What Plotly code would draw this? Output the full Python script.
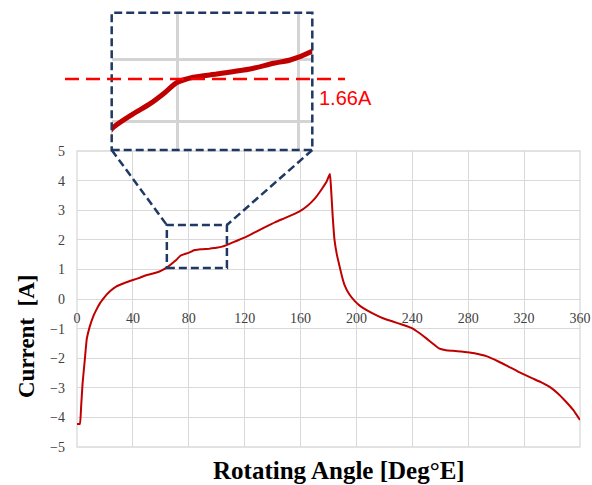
import plotly.graph_objects as go

# ---------------- data ----------------
angle = [0, 2, 3, 4, 5.5, 7, 9, 11.5, 14, 16.5, 19, 21, 24, 28, 34, 40, 45, 50, 55, 59,
         62, 64.5, 68, 71, 74, 77.2, 79.7, 81.7, 83.7, 86.2, 89.7, 94.7, 98.2, 100.7, 103.9,
         107, 114, 121, 128, 135, 142, 150, 159, 165, 170, 175, 178.5, 181, 182, 183,
         184.3, 186, 188, 190, 191.5, 195, 199, 203, 207, 213, 219, 226, 233, 240, 245,
         250, 255, 259, 264, 269, 275, 281, 287, 293, 302, 309, 316, 326, 332, 338, 344,
         350, 355, 360]
current = [-4.22, -4.22, -3.6, -2.85, -2.1, -1.35, -0.95, -0.6, -0.35, -0.14, 0.02, 0.14,
           0.28, 0.42, 0.54, 0.64, 0.72, 0.81, 0.87, 0.93, 1.0, 1.07, 1.2, 1.32, 1.46, 1.52,
           1.56, 1.60, 1.645, 1.667, 1.68, 1.70, 1.723, 1.736, 1.77, 1.82, 1.96, 2.1, 2.27,
           2.44, 2.6, 2.76, 2.95, 3.15, 3.38, 3.7, 3.95, 4.22, 3.6, 2.8, 2.0, 1.5, 1.09, 0.7,
           0.47, 0.15, -0.08, -0.25, -0.37, -0.52, -0.65, -0.76, -0.87, -0.99, -1.15, -1.33,
           -1.52, -1.67, -1.73, -1.75, -1.77, -1.81, -1.86, -1.93, -2.12, -2.29, -2.46, -2.68,
           -2.81, -2.96, -3.18, -3.47, -3.74, -4.09]

x_ticks = [0, 40, 80, 120, 160, 200, 240, 280, 320, 360]
y_ticks = [-5, -4, -3, -2, -1, 0, 1, 2, 3, 4, 5]

zoom_x = [64.3, 107.3]      # zoom window on the main plot
zoom_y = [1.05, 2.5]
inset_x_range = [74, 104]
inset_y_range = [1.3755, 1.9256]
inset_x_grid = [83.8, 101.9]
inset_y_grid = [1.489, 1.739]
marker_level = 1.66
marker_label = "1.66A"

# ---------------- layout geometry ----------------
W, H = 592, 485
main_dx = [77 / W, 580 / W]
main_dy = [1 - 447 / H, 1 - 151 / H]
inset_dx = [111.7 / W, 312.3 / W]
inset_dy = [1 - 150 / H, 1 - 12.7 / H]
X_RANGE = [0, 360]
Y_RANGE = [-5, 5]


def px(v):
    return main_dx[0] + (v - X_RANGE[0]) / (X_RANGE[1] - X_RANGE[0]) * (main_dx[1] - main_dx[0])


def py(v):
    return main_dy[0] + (v - Y_RANGE[0]) / (Y_RANGE[1] - Y_RANGE[0]) * (main_dy[1] - main_dy[0])


def py2(v):
    return inset_dy[0] + (v - inset_y_range[0]) / (inset_y_range[1] - inset_y_range[0]) * (inset_dy[1] - inset_dy[0])


RED = "#c00000"
NAVY = "#1f3864"
GRID = "#d9d9d9"
SERIF = "Liberation Serif, Times New Roman, serif"

fig = go.Figure()
fig.add_trace(go.Scatter(x=angle, y=current, mode="lines",
                         line=dict(color=RED, width=2, shape="spline", smoothing=0.4),
                         xaxis="x", yaxis="y", showlegend=False, hoverinfo="skip"))
fig.add_trace(go.Scatter(x=angle, y=current, mode="lines",
                         line=dict(color=RED, width=5, shape="spline", smoothing=0.6),
                         xaxis="x2", yaxis="y2", showlegend=False, hoverinfo="skip"))

tick_font = dict(family=SERIF, size=14, color="#404040")

fig.update_layout(
    width=W, height=H, autosize=False,
    margin=dict(l=0, r=0, t=0, b=0, pad=0),
    paper_bgcolor="white", plot_bgcolor="white",
    xaxis=dict(domain=main_dx, range=X_RANGE, tickvals=x_ticks, automargin=False,
               anchor="free", position=(main_dy[0] + main_dy[1]) / 2,
               showgrid=True, gridcolor=GRID, gridwidth=1.3,
               zeroline=False, showline=False, ticks="", ticklabelstandoff=9,
               tickfont=tick_font),
    yaxis=dict(domain=main_dy, range=Y_RANGE, tickvals=y_ticks, anchor="x", automargin=False,
               showgrid=True, gridcolor=GRID, gridwidth=1.3,
               zeroline=False, showline=False, ticks="", ticklabelstandoff=11,
               tickfont=tick_font),
    xaxis2=dict(domain=inset_dx, range=inset_x_range, tickvals=inset_x_grid, anchor="y2",
                automargin=False, showticklabels=False, showgrid=True, gridcolor="#d4d4d4",
                gridwidth=3, zeroline=False, showline=False, ticks=""),
    yaxis2=dict(domain=inset_dy, range=inset_y_range, tickvals=inset_y_grid, anchor="x2",
                automargin=False, showticklabels=False, showgrid=True, gridcolor="#d4d4d4",
                gridwidth=3, zeroline=False, showline=False, ticks=""),
)

shapes = []
shapes.append(dict(type="rect", xref="x domain", yref="y domain", x0=0, x1=1, y0=0, y1=1,
                   line=dict(color=GRID, width=1.3), layer="below"))
shapes.append(dict(type="rect", xref="x", yref="y", x0=zoom_x[0], x1=zoom_x[1],
                   y0=zoom_y[0], y1=zoom_y[1], line=dict(color=NAVY, width=2.5, dash="8px,4px")))
shapes.append(dict(type="line", xref="paper", yref="paper", x0=inset_dx[0], y0=inset_dy[0],
                   x1=px(zoom_x[0]), y1=py(zoom_y[1]), line=dict(color=NAVY, width=2.5, dash="8px,4px")))
shapes.append(dict(type="line", xref="paper", yref="paper", x0=inset_dx[1], y0=inset_dy[0],
                   x1=px(zoom_x[1]), y1=py(zoom_y[1]), line=dict(color=NAVY, width=2.5, dash="8px,4px")))
shapes.append(dict(type="rect", xref="x2 domain", yref="y2 domain", x0=0, x1=1, y0=0, y1=1,
                   line=dict(color=NAVY, width=2.5, dash="8px,4px")))
shapes.append(dict(type="line", xref="paper", yref="paper", x0=65 / W, x1=345 / W,
                   y0=py2(marker_level), y1=py2(marker_level),
                   line=dict(color="#ff0000", width=2.5, dash="14px,7px")))
fig.update_layout(shapes=shapes)

annotations = [
    dict(text=marker_label, xref="paper", yref="paper", x=317 / W, y=py2(marker_level) - 19 / H,
         xanchor="left", yanchor="middle", showarrow=False,
         font=dict(family="Liberation Sans, Arial, sans-serif", size=20, color="#ff0000")),
    dict(text="<b>Current\u00a0 [A]</b>", xref="paper", yref="paper", x=26 / W, y=1 - 336 / H,
         xanchor="center", yanchor="middle", textangle=-90, showarrow=False,
         font=dict(family=SERIF, size=23, color="black")),
    dict(text="<b>Rotating Angle [Deg°E]</b>", xref="paper", yref="paper", x=339 / W, y=1 - 470 / H,
         xanchor="center", yanchor="middle", showarrow=False,
         font=dict(family=SERIF, size=25, color="black")),
]
fig.update_layout(annotations=annotations)

fig.write_html("out.html")
